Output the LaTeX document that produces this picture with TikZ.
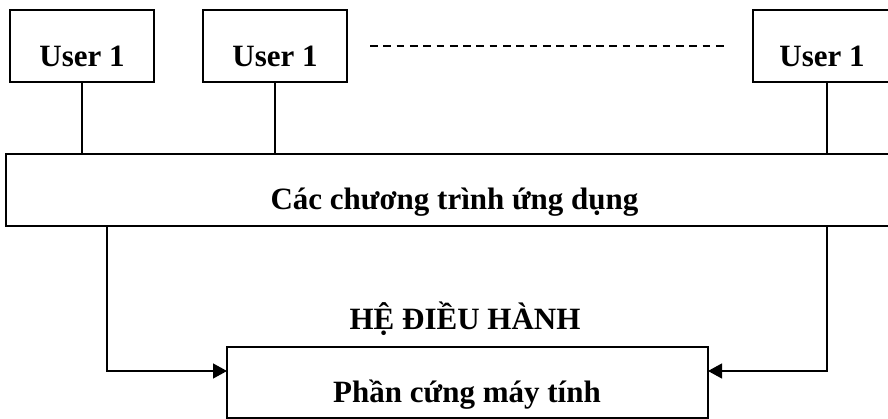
\documentclass[tikz,border=0pt]{standalone}
\usepackage{fontspec}
\setmainfont{Liberation Serif}
\usetikzlibrary{arrows.meta}
\begin{document}
\begin{tikzpicture}[x=1pt,y=-1pt,
  box/.style={draw, line width=1.3pt, inner sep=0pt, outer sep=0pt},
  lbl/.style={font=\bfseries\fontsize{31}{36}\selectfont, inner sep=0pt, anchor=base},
  wire/.style={line width=1.3pt},
  arr/.style={line width=1.3pt, -{Triangle[length=14pt,width=15pt]}},
  dashline/.style={line width=1.3pt, dash pattern=on 7.7pt off 5.6pt}]
\clip (0,0) rectangle (888,419);
% user boxes
\node[box, minimum width=144pt, minimum height=72pt] (u1) at (82,46) {};
\node[box, minimum width=144pt, minimum height=72pt] (u2) at (275,46) {};
\node[box, minimum width=138pt, minimum height=72pt] (u3) at (822,46) {};
\node[lbl] (t1) at (82,67) {User 1};
\node[lbl] (t2) at (275,67) {User 1};
\node[lbl] (t3) at (822,67) {User 1};
% dashed line
\coordinate (d1) at (370,46);
\coordinate (d2) at (727,46);
\draw[dashline] (d1) -- (d2);
% application box
\node[box, minimum width=897pt, minimum height=72pt] (app) at (454.5,190) {};
\node[lbl] (tapp) at (454.5,210) {Các chương trình ứng dụng};
% user connectors
\draw[wire] (u1.south) -- (u1.south |- app.north);
\draw[wire] (u2.south) -- (u2.south |- app.north);
\coordinate (c3) at (827,82);
\draw[wire] (c3) -- (c3 |- app.north);
% OS label
\node[lbl] (os) at (465,330) {HỆ ĐIỀU HÀNH};
% hardware box
\node[box, minimum width=481pt, minimum height=71pt] (hw) at (467.5,382.5) {};
\node[lbl] (thw) at (467,402) {Phần cứng máy tính};
% arrows
\coordinate (al) at (107,371);
\coordinate (ar) at (827,371);
\draw[arr] (app.south -| al) |- (hw.west |- al);
\draw[arr] (app.south -| ar) |- (hw.east |- ar);
\end{tikzpicture}
\end{document}
